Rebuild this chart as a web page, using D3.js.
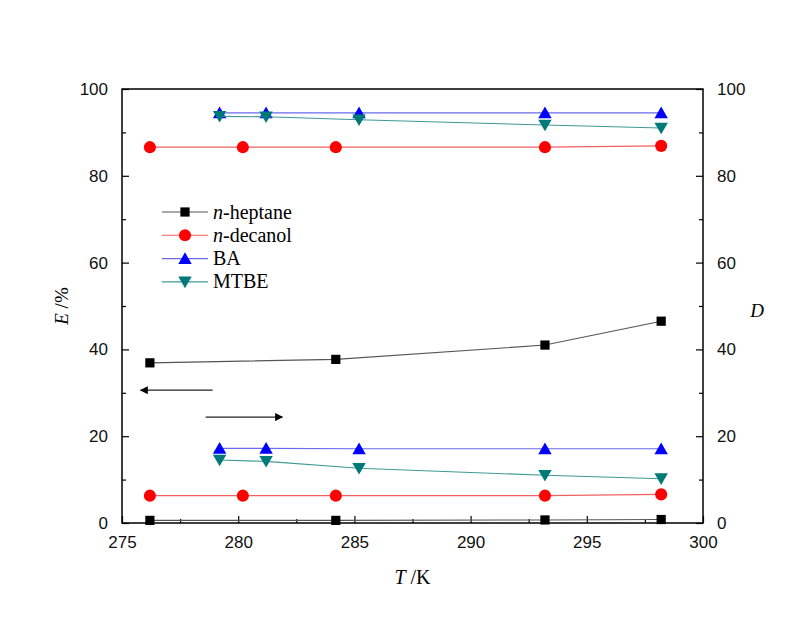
<!DOCTYPE html>
<html lang="en">
<head>
<meta charset="UTF-8">
<title>E and D vs T</title>
<script src="https://d3js.org/d3.v7.min.js"></script>
<style>
  html, body { margin: 0; background: #fff; }
  .tick text { font-family: "Liberation Sans", Arial, sans-serif; font-size: 17px; }
</style>
</head>
<body>
<div id="vis"></div>
<script>
// temperatures (K) per series
var tHeptane = [276.2, 284.2, 293.2, 298.2];
var tDecanol = [276.2, 280.2, 284.2, 293.2, 298.2];
var tBA      = [279.2, 281.2, 285.2, 293.2, 298.2];
var tMTBE    = [279.2, 281.2, 285.2, 293.2, 298.2];

// extraction efficiency E (%) - left axis
var eHeptane = [36.9, 37.7, 41.0, 46.5];
var eDecanol = [86.6, 86.6, 86.6, 86.6, 86.9];
var eBA      = [94.5, 94.5, 94.5, 94.5, 94.5];
var eMTBE    = [93.7, 93.6, 92.9, 91.7, 91.0];

// distribution ratio D - right axis
var dHeptane = [0.6, 0.6, 0.7, 0.8];
var dDecanol = [6.3, 6.3, 6.3, 6.3, 6.6];
var dBA      = [17.2, 17.2, 17.1, 17.1, 17.1];
var dMTBE    = [14.5, 14.2, 12.6, 11.0, 10.2];

var xTicks = [275, 280, 285, 290, 295, 300];
var yTicks = [0, 20, 40, 60, 80, 100];

var width = 803, height = 619;
var margin = {top: 89, right: 100, bottom: 96, left: 122};
var w = width - margin.left - margin.right;
var h = height - margin.top - margin.bottom;

var svg = d3.select('#vis').append('svg')
    .attr('width', width)
    .attr('height', height);

var g = svg.append('g')
    .attr('transform', 'translate(' + margin.left + ',' + margin.top + ')');

var x = d3.scaleLinear().domain([275, 300]).range([0, w]);
var yE = d3.scaleLinear().domain([0, 100]).range([h, 0]);
var yD = d3.scaleLinear().domain([0, 100]).range([h, 0]);

// minor ticks first
g.append('g')
    .attr('transform', 'translate(0,' + h + ')')
    .call(d3.axisTop(x).tickValues(d3.range(277.5, 300, 5)).tickSize(4).tickFormat(''))
    .call(function(s) { s.select('.domain').remove(); });
g.append('g')
    .call(d3.axisRight(yE).tickValues(d3.range(10, 100, 20)).tickSize(4).tickFormat(''))
    .call(function(s) { s.select('.domain').remove(); });
g.append('g')
    .attr('transform', 'translate(' + w + ',0)')
    .call(d3.axisLeft(yD).tickValues(d3.range(10, 100, 20)).tickSize(4).tickFormat(''))
    .call(function(s) { s.select('.domain').remove(); });

// major ticks (inward) with labels outside
g.append('g')
    .attr('transform', 'translate(0,' + h + ')')
    .call(d3.axisBottom(x).tickValues(xTicks).tickSizeInner(-7).tickSizeOuter(0).tickPadding(13));

g.append('g')
    .call(d3.axisLeft(yE).tickValues(yTicks).tickSizeInner(-7).tickSizeOuter(0).tickPadding(14));

g.append('g')
    .attr('transform', 'translate(' + w + ',0)')
    .call(d3.axisRight(yD).tickValues(yTicks).tickSizeInner(-7).tickSizeOuter(0).tickPadding(14));

g.selectAll('.domain').remove();
g.selectAll('.tick line').attr('stroke', '#000').attr('stroke-width', 1.2);
g.selectAll('.tick text').attr('fill', '#111');

// frame
g.append('rect')
    .attr('width', w).attr('height', h)
    .attr('fill', 'none').attr('stroke', '#000').attr('stroke-width', 1.5);

var series = [
  {name: 'n-heptane', t: tHeptane, e: eHeptane, d: dHeptane, color: '#000', line: '#555', sym: d3.symbolSquare, size: 85, rot: 0},
  {name: 'n-decanol', t: tDecanol, e: eDecanol, d: dDecanol, color: '#ff0000', line: '#f26060', sym: d3.symbolCircle, size: 115, rot: 0},
  {name: 'BA', t: tBA, e: eBA, d: dBA, color: '#0000ff', line: '#6a6aee', sym: d3.symbolTriangle, size: 78, rot: 0},
  {name: 'MTBE', t: tMTBE, e: eMTBE, d: dMTBE, color: '#007a78', line: '#3f9996', sym: d3.symbolTriangle, size: 78, rot: 180}
];

var line = d3.line();

function symOffset(s) {
  return s.sym === d3.symbolTriangle ? (s.rot ? -1.5 : 1.5) : 0;
}

series.forEach(function(s) {
  [['e', yE], ['d', yD]].forEach(function(pair) {
    var vals = s[pair[0]], sc = pair[1];
    var pts = s.t.map(function(t, i) { return [x(t), sc(vals[i])]; });
    g.append('path')
        .attr('d', line(pts))
        .attr('fill', 'none')
        .attr('stroke', s.line)
        .attr('stroke-width', 1.1);
    g.selectAll(null).data(pts).enter().append('path')
        .attr('d', d3.symbol().type(s.sym).size(s.size))
        .attr('transform', function(p) {
          return 'translate(' + p[0] + ',' + (p[1] + symOffset(s)) + ') rotate(' + s.rot + ')';
        })
        .attr('fill', s.color);
  });
});

// arrows: left arrow -> E axis, right arrow -> D axis
var defs = svg.append('defs');
defs.append('marker')
    .attr('id', 'head')
    .attr('viewBox', '0 0 10 10')
    .attr('refX', 9).attr('refY', 5)
    .attr('markerWidth', 10).attr('markerHeight', 8)
    .attr('markerUnits', 'userSpaceOnUse')
    .attr('orient', 'auto')
    .append('path').attr('d', 'M0,0 L10,5 L0,10 Z').attr('fill', '#000');

var arrows = [
  {from: [278.9, 30.6], to: [275.8, 30.6]},
  {from: [278.6, 24.4], to: [281.9, 24.4]}
];
arrows.forEach(function(a) {
  g.append('line')
      .attr('x1', x(a.from[0])).attr('y1', yE(a.from[1]))
      .attr('x2', x(a.to[0])).attr('y2', yE(a.to[1]))
      .attr('stroke', '#222').attr('stroke-width', 1.3)
      .attr('marker-end', 'url(#head)');
});

// legend
var serif = '"Liberation Serif", "Times New Roman", serif';
var legend = svg.append('g').attr('transform', 'translate(162,212)');
series.forEach(function(s, i) {
  var row = legend.append('g').attr('transform', 'translate(0,' + (i * 23.3) + ')');
  row.append('line').attr('x1', 0).attr('x2', 46).attr('stroke', s.line).attr('stroke-width', 1.1);
  row.append('path')
      .attr('d', d3.symbol().type(s.sym).size(s.size))
      .attr('transform', 'translate(23,' + symOffset(s) + ') rotate(' + s.rot + ')')
      .attr('fill', s.color);
  var txt = row.append('text')
      .attr('x', 51).attr('y', 6.5)
      .style('font-family', serif)
      .style('font-size', '20px');
  if (s.name.indexOf('n-') === 0) {
    txt.append('tspan').style('font-style', 'italic').text('n');
    txt.append('tspan').text(s.name.slice(1));
  } else {
    txt.text(s.name);
  }
});

// axis titles
var yt = svg.append('text')
    .attr('transform', 'translate(68,' + (margin.top + h / 2) + ') rotate(-90)')
    .attr('text-anchor', 'middle')
    .style('font-family', serif).style('font-size', '19px');
yt.append('tspan').style('font-style', 'italic').text('E');
yt.append('tspan').text(' /%');

svg.append('text')
    .attr('x', 757).attr('y', 317)
    .attr('text-anchor', 'middle')
    .style('font-family', serif).style('font-size', '19px').style('font-style', 'italic')
    .text('D');

var xt = svg.append('text')
    .attr('x', margin.left + w / 2).attr('y', 584)
    .attr('text-anchor', 'middle')
    .style('font-family', serif).style('font-size', '20px');
xt.append('tspan').style('font-style', 'italic').text('T');
xt.append('tspan').text(' /K');
</script>
</body>
</html>
